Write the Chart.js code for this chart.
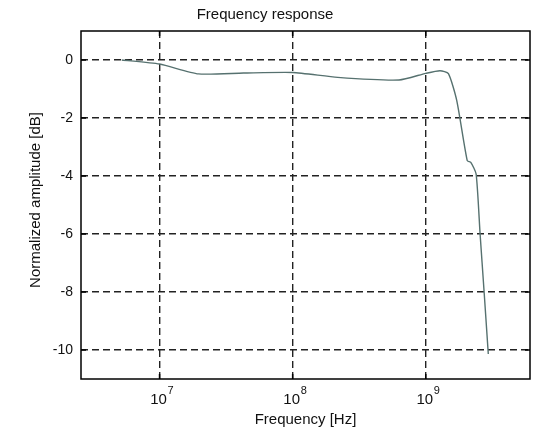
<!DOCTYPE html>
<html>
<head>
<meta charset="utf-8">
<title>Frequency response</title>
<script src="https://cdn.jsdelivr.net/npm/chart.js@4.4.1/dist/chart.umd.min.js"></script>
<style>
  html, body { margin: 0; padding: 0; background: #fff; }
  canvas { display: block; }
</style>
</head>
<body>
<canvas id="myChart" width="560" height="432"></canvas>
<script>
// frequency response
var freqHz = [5.2e6, 1.0e7, 1.96e7, 4.27e7, 1.0e8, 2.18e8, 6.3e8, 1.0e9, 1.28e9, 1.48e9,
              1.71e9, 2.05e9, 2.18e9, 2.39e9, 2.56e9, 2.74e9, 2.95e9];
var ampDb = [0, -0.14, -0.48, -0.45, -0.43, -0.6, -0.69, -0.46, -0.37, -0.47,
             -1.4, -3.47, -3.53, -3.93, -6.0, -7.95, -10.14];

var xTicks = [1e7, 1e8, 1e9];
var xTickExp = ["7", "8", "9"];
var yTicks = [-10, -8, -6, -4, -2, 0];

var points = freqHz.map(function (f, i) { return { x: f, y: ampDb[i] }; });

var FONT = "'Liberation Sans', Arial, sans-serif";

// box round the axes, inward tick marks, and 10^n labels
var matlabAxes = {
  id: "matlabAxes",
  afterDraw: function (chart) {
    var ctx = chart.ctx;
    var a = chart.chartArea;
    var xs = chart.scales.x, ys = chart.scales.y;
    ctx.save();
    ctx.strokeStyle = "#000";
    ctx.lineWidth = 1.5;
    ctx.strokeRect(a.left, a.top, a.right - a.left, a.bottom - a.top);

    ctx.beginPath();
    xTicks.forEach(function (v) {
      var px = xs.getPixelForValue(v);
      ctx.moveTo(px, a.bottom); ctx.lineTo(px, a.bottom - 5);
      ctx.moveTo(px, a.top); ctx.lineTo(px, a.top + 5);
    });
    yTicks.forEach(function (v) {
      var py = ys.getPixelForValue(v);
      ctx.moveTo(a.left, py); ctx.lineTo(a.left + 5, py);
      ctx.moveTo(a.right, py); ctx.lineTo(a.right - 5, py);
    });
    ctx.stroke();

    ctx.fillStyle = "#111";
    ctx.textBaseline = "alphabetic";
    xTicks.forEach(function (v, i) {
      var px = xs.getPixelForValue(v);
      ctx.font = "15px " + FONT;
      ctx.textAlign = "center";
      ctx.fillText("10", px - 1, a.bottom + 25);
      ctx.font = "11px " + FONT;
      ctx.textAlign = "left";
      ctx.fillText(xTickExp[i], px + 8, a.bottom + 15);
    });

    // y axis label, drawn here so it can sit at the reference's height
    ctx.font = "15px " + FONT;
    ctx.textAlign = "center";
    ctx.textBaseline = "middle";
    ctx.translate(36, 200);
    ctx.rotate(-Math.PI / 2);
    ctx.fillText("Normalized amplitude [dB]", 0, 0);
    ctx.restore();
  }
};

new Chart("myChart", {
  type: "line",
  data: {
    datasets: [{
      data: points,
      borderColor: "#56716f",
      borderWidth: 1.4,
      pointRadius: 0,
      tension: 0.2,
      fill: false
    }]
  },
  options: {
    responsive: false,
    animation: false,
    layout: { padding: { left: 0, right: 30, top: 0, bottom: 0 } },
    plugins: {
      legend: { display: false },
      tooltip: { enabled: false },
      title: {
        display: true,
        text: "Frequency response",
        color: "#111",
        font: { family: FONT, size: 15, weight: "normal", lineHeight: 1.2 },
        padding: { top: 6, bottom: 7 }
      }
    },
    scales: {
      x: {
        type: "logarithmic",
        min: 2.57e6,
        max: 6.07e9,
        afterBuildTicks: function (scale) {
          scale.ticks = xTicks.map(function (v) { return { value: v }; });
        },
        afterFit: function (scale) { scale.height = 53; },
        ticks: { display: false },
        grid: { color: "#222", lineWidth: 1.4, drawTicks: false },
        border: { display: false, dash: [7, 4] },
        title: {
          display: true,
          text: "Frequency [Hz]",
          color: "#111",
          font: { family: FONT, size: 15, lineHeight: 1.2 },
          padding: { top: 0, bottom: 3 }
        }
      },
      y: {
        min: -11,
        max: 1,
        afterBuildTicks: function (scale) {
          scale.ticks = yTicks.map(function (v) { return { value: v }; });
        },
        afterFit: function (scale) { scale.width = 81; },
        ticks: {
          color: "#111",
          padding: 8,
          font: { family: FONT, size: 14 }
        },
        grid: { color: "#222", lineWidth: 1.4, drawTicks: false },
        border: { display: false, dash: [7, 4] }
      }
    }
  },
  plugins: [matlabAxes]
});
</script>
</body>
</html>
